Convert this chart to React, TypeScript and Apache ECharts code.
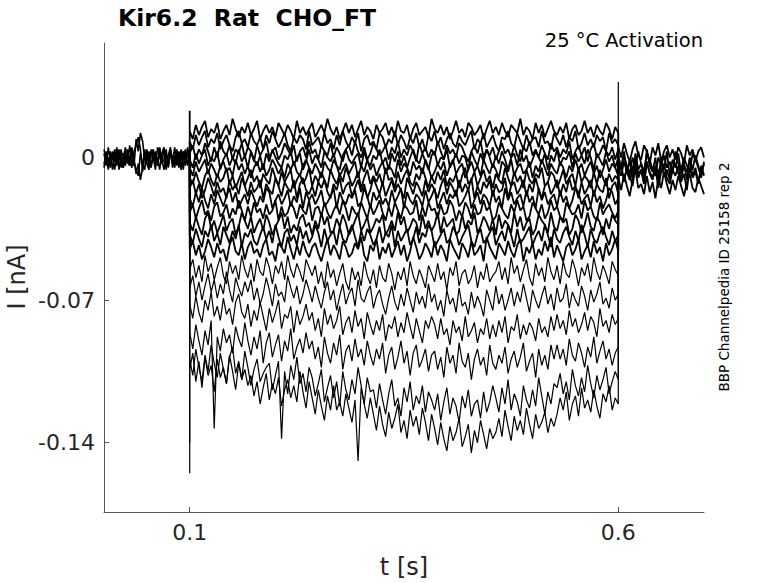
import React, { useEffect, useRef } from "react";
import * as echarts from "echarts";

// ---- units / time window ----
const PA_TO_NA = 0.001; // values below are in pA, plotted in nA
const T_MIN = 0;
const T_ON = 0.1;
const T_OFF = 0.6;
const T_MAX = 0.7;

// ---- axis ticks ----
const xTicks = [0.1, 0.6];
const xTickLabels = ["0.1", "0.6"];
const yTicks = [-0.14, -0.07, 0];
const yTickLabels = ["-0.14", "-0.07", "0"];

// ---- pre-pulse baseline (0 .. 0.1 s), pA ----
const pre1 = [2,-4,5,-2,0,-6,3,-1,4,-5,1,-3,6,-2,-4,9,3,12,8,-1,2,-5,1,4,-3,0,-6,2,5,-2,-4,3,0,-5,4,-1,2,-6,3,1,-3];
const pre2 = [-3,1,-6,3,-1,4,-4,2,-5,0,5,-2,-4,2,-1,-8,-3,-11,-5,4,-2,3,-4,0,-6,5,1,-3,-1,4,-5,2,-2,5,-4,1,-6,3,0,-3,2];
const pre3 = [4,-1,0,-5,3,-2,5,-6,1,2,-4,4,-1,-5,3,6,10,4,-7,1,-3,-6,4,-1,3,-4,2,-2,4,-6,1,5,-3,-1,2,-5,4,0,-4,5,-2];
const pre4 = [-5,3,-2,1,-6,2,-3,4,-1,-5,3,0,-4,5,-2,-6,-9,2,-3,-6,4,-2,-5,3,0,-4,5,-1,-6,2,-3,4,-5,1,-2,3,-6,0,4,-4,1];

// ---- step traces (0.1 .. 0.6 s), pA ----
const trace01 = [13,9,16,11,15,18,10,14,12,17,9,13,16,11,19,14,10,15,12,17,
11,14,18,9,13,16,12,15,10,17,14,11,16,13,9,18,12,15,11,14,
17,10,13,16,12,19,14,11,15,9,13,17,12,16,10,14,18,11,15,13,
9,16,12,14,17,11,15,10,18,13,12,16,9,14,17,11,13,15,10,19,
14,12,16,11,15,9,13,18,12,14,10,17,15,11,13,16,9,14,18,12,
15,11,17,13,10,16,14,12,19,11,15,13,9,17,12,16,10,14,18,13,
11,15,12,17,9,14,16,11,13,18,12,15,10,16,13,11,17,14,9,15,12];
const trace02 = [8,4,11,6,10,13,5,9,7,12,4,8,11,6,3,10,13,7,9,5,
12,8,6,10,4,11,7,13,9,5,8,12,6,3,10,7,11,9,4,13,
6,8,10,5,12,7,9,4,11,6,13,8,5,10,7,12,3,9,11,6,
8,4,12,10,5,9,7,13,6,11,8,4,10,7,12,5,9,3,11,8,
13,6,10,4,9,12,7,5,11,8,6,10,13,4,9,7,12,5,8,11,
6,3,10,9,13,7,5,12,8,4,11,6,9,10,5,13,7,8,4,12,
9,6,11,5,10,8,13,4,7,12,6,9,5,11,8,10,3,12,7,9,6];
const trace03 = [2,6,-1,4,1,7,3,-2,5,0,8,3,1,6,-1,4,2,7,0,5,
3,-2,6,1,4,8,0,3,5,-1,2,7,4,1,6,-2,3,5,0,8,
2,4,-1,6,3,1,7,0,5,2,-2,4,6,1,8,3,0,5,-1,2,
7,4,1,3,6,-1,5,2,8,0,4,1,6,3,-2,7,2,5,0,4,
1,8,3,-1,6,2,4,0,7,5,1,-2,3,6,2,8,0,4,1,5,
-1,3,7,2,4,0,6,1,-2,5,3,8,1,4,0,6,2,-1,7,3,
5,0,4,2,8,-1,3,6,1,5,-2,4,7,0,2,6,3,1,5,-1,4];
const trace04 = [-1,-5,2,-3,1,4,-4,0,-2,3,-6,-1,2,-4,0,-3,4,-2,1,-5,
3,-1,-4,1,-6,2,-2,4,0,-3,-5,1,-1,3,-4,0,2,-6,-2,4,
-3,1,-1,-5,3,0,-2,2,-4,-6,1,4,-1,-3,0,2,-5,3,-2,-4,
1,-1,4,-3,0,-6,2,-2,3,-4,1,-5,0,4,-1,-3,2,-2,-6,1,
3,-4,0,-1,4,-5,-2,2,-3,1,0,-6,3,-1,-4,2,-2,4,0,-5,
1,-3,3,-1,-6,0,2,-4,4,-2,1,-5,-1,3,0,-3,2,-6,1,-2,
4,-4,0,-1,3,-5,2,-2,1,-3,4,0,-6,2,-1,-4,3,-2,1,-5,0];
const trace05 = [-5,-9,-2,-7,-4,-1,-8,-3,-6,-10,-4,-2,-7,-5,-9,-1,-6,-3,-8,-4,
-10,-5,-2,-7,-3,-9,-6,-1,-4,-8,-5,-10,-3,-6,-2,-7,-9,-4,-1,-5,
-8,-3,-6,-10,-2,-5,-7,-1,-4,-9,-6,-3,-8,-5,-2,-10,-4,-7,-1,-6,
-3,-9,-5,-2,-8,-4,-6,-10,-1,-7,-3,-5,-9,-2,-6,-4,-8,-1,-5,-10,
-7,-3,-6,-2,-9,-4,-1,-8,-5,-3,-10,-6,-2,-7,-4,-9,-1,-5,-8,-3,
-6,-10,-2,-4,-7,-1,-9,-5,-3,-8,-6,-2,-10,-4,-7,-1,-5,-9,-3,-6,
-8,-2,-5,-10,-4,-7,-1,-6,-3,-9,-5,-2,-8,-4,-10,-6,-1,-7,-3,-5,-9];
const trace06 = [-10,-13,-7,-12,-15,-9,-6,-11,-14,-8,-12,-10,-5,-13,-9,-15,-11,-7,-14,-10,
-6,-12,-9,-15,-8,-11,-13,-5,-10,-14,-7,-12,-9,-6,-15,-11,-8,-13,-10,-5,
-14,-9,-12,-7,-11,-15,-6,-10,-13,-8,-12,-5,-9,-14,-11,-7,-15,-10,-6,-13,
-9,-12,-8,-14,-5,-11,-10,-15,-7,-13,-9,-6,-12,-14,-8,-11,-5,-10,-15,-9,
-13,-7,-11,-6,-14,-10,-12,-8,-15,-9,-5,-13,-11,-7,-14,-10,-6,-12,-9,-15,
-8,-11,-13,-5,-10,-14,-7,-12,-9,-15,-6,-11,-13,-8,-10,-5,-14,-12,-7,-9,
-15,-11,-6,-13,-10,-8,-14,-5,-12,-9,-11,-15,-7,-13,-6,-10,-14,-8,-12,-9,-11];
const trace07 = [-15,-11,-18,-13,-20,-16,-10,-14,-19,-12,-17,-15,-20,-11,-16,-13,-18,-10,-14,-19,
-12,-17,-15,-11,-20,-13,-16,-18,-10,-14,-19,-12,-15,-17,-11,-20,-13,-10,-16,-18,
-14,-19,-12,-15,-11,-17,-20,-13,-16,-10,-18,-14,-12,-19,-15,-11,-17,-13,-20,-16,
-10,-14,-18,-12,-19,-15,-11,-17,-13,-16,-20,-10,-14,-18,-12,-15,-19,-11,-17,-13,
-16,-20,-14,-10,-18,-12,-15,-19,-11,-17,-13,-16,-10,-20,-14,-18,-12,-15,-11,-19,
-13,-17,-16,-10,-20,-14,-12,-18,-15,-11,-19,-13,-17,-10,-16,-20,-14,-12,-18,-15,
-11,-19,-13,-17,-10,-16,-14,-20,-12,-18,-15,-11,-19,-13,-16,-17,-10,-20,-14,-12,-18];
const trace08 = [-20,-24,-17,-22,-15,-21,-25,-18,-23,-16,-20,-24,-19,-15,-22,-17,-25,-21,-18,-23,
-16,-20,-24,-19,-22,-15,-17,-25,-21,-18,-23,-20,-16,-24,-19,-22,-15,-25,-17,-21,
-18,-23,-20,-16,-24,-22,-19,-15,-25,-17,-21,-23,-18,-20,-16,-24,-22,-15,-19,-25,
-17,-21,-18,-23,-20,-24,-16,-22,-19,-15,-25,-17,-21,-23,-18,-20,-24,-16,-22,-19,
-15,-25,-21,-17,-23,-18,-20,-16,-24,-22,-19,-15,-25,-21,-17,-23,-18,-20,-24,-16,
-22,-19,-25,-15,-21,-17,-23,-20,-18,-24,-16,-22,-19,-25,-15,-21,-17,-23,-20,-18,
-24,-16,-22,-19,-25,-21,-15,-17,-23,-20,-18,-24,-16,-22,-19,-25,-21,-15,-17,-23,-20];
const trace09 = [-27,-23,-30,-25,-21,-28,-26,-31,-24,-22,-29,-27,-23,-30,-25,-28,-21,-26,-31,-24,
-29,-22,-27,-25,-30,-23,-28,-26,-21,-31,-24,-29,-27,-22,-25,-30,-23,-26,-28,-21,
-31,-25,-24,-29,-22,-27,-30,-26,-23,-28,-21,-25,-31,-24,-27,-29,-22,-26,-30,-23,
-28,-25,-21,-27,-31,-24,-29,-22,-26,-30,-23,-25,-28,-27,-21,-31,-24,-29,-22,-26,
-25,-30,-23,-28,-27,-21,-24,-31,-26,-29,-22,-25,-30,-23,-28,-27,-21,-26,-24,-31,
-29,-22,-25,-28,-30,-23,-27,-21,-26,-24,-31,-29,-22,-25,-28,-23,-30,-27,-21,-26,
-24,-29,-31,-22,-25,-28,-27,-23,-30,-21,-26,-24,-29,-31,-22,-28,-25,-23,-27,-30,-26];
const trace10 = [-32,-36,-29,-34,-38,-30,-27,-35,-31,-37,-33,-28,-36,-32,-30,-38,-34,-27,-31,-35,
-29,-37,-33,-30,-36,-28,-32,-38,-34,-31,-27,-35,-29,-37,-33,-36,-30,-28,-34,-32,
-38,-31,-35,-27,-33,-29,-37,-36,-30,-34,-28,-32,-38,-35,-31,-27,-36,-33,-29,-37,
-34,-30,-32,-28,-38,-35,-31,-36,-27,-33,-29,-37,-34,-30,-32,-38,-28,-35,-31,-36,
-33,-27,-37,-29,-34,-32,-30,-38,-36,-28,-35,-31,-33,-27,-37,-34,-29,-32,-36,-30,
-38,-28,-35,-31,-33,-37,-27,-34,-29,-36,-32,-30,-38,-35,-28,-31,-33,-37,-27,-34,
-36,-29,-32,-30,-38,-35,-28,-31,-37,-33,-27,-34,-36,-29,-32,-38,-30,-35,-28,-31,-33];
const trace11 = [-38,-42,-35,-40,-44,-36,-39,-33,-41,-37,-43,-34,-38,-42,-36,-40,-33,-44,-37,-39,
-35,-41,-43,-38,-34,-40,-36,-42,-33,-39,-44,-37,-35,-41,-38,-43,-34,-40,-36,-42,
-39,-33,-37,-44,-35,-41,-38,-36,-43,-34,-40,-42,-37,-33,-39,-44,-36,-41,-35,-38,
-43,-40,-34,-42,-37,-39,-33,-44,-36,-41,-38,-35,-43,-40,-34,-42,-37,-39,-33,-36,
-44,-41,-38,-35,-42,-40,-34,-37,-43,-39,-36,-33,-41,-44,-38,-35,-42,-40,-37,-34,
-43,-39,-36,-41,-33,-38,-44,-35,-42,-40,-37,-34,-43,-39,-36,-41,-33,-38,-44,-35,
-40,-42,-37,-34,-39,-43,-36,-41,-33,-38,-44,-35,-40,-42,-37,-34,-39,-43,-36,-41,-38];
const trace12 = [-45,-41,-48,-43,-50,-46,-40,-44,-49,-42,-47,-45,-51,-43,-39,-46,-48,-42,-50,-44,
-41,-47,-45,-49,-43,-40,-48,-46,-51,-42,-44,-47,-39,-45,-50,-43,-48,-41,-46,-49,
-44,-42,-47,-51,-45,-40,-48,-43,-46,-50,-41,-44,-49,-47,-42,-45,-39,-48,-51,-43,
-46,-40,-50,-44,-47,-42,-49,-45,-41,-48,-43,-51,-46,-39,-44,-50,-47,-42,-45,-49,
-41,-48,-43,-46,-51,-40,-44,-47,-50,-42,-45,-49,-41,-48,-46,-43,-51,-39,-44,-47,
-50,-42,-45,-48,-41,-46,-49,-43,-40,-51,-44,-47,-42,-50,-45,-48,-41,-46,-39,-49,
-43,-47,-51,-44,-42,-48,-45,-40,-50,-46,-43,-49,-41,-47,-44,-51,-42,-48,-45,-40,-46];
const trace13 = [-55,-50,-59,-53,-61,-48,-56,-52,-60,-54,-49,-58,-62,-51,-57,-53,-60,-48,-55,-59,
-52,-61,-50,-56,-58,-49,-54,-62,-53,-57,-51,-60,-48,-55,-59,-52,-56,-61,-50,-54,
-58,-53,-62,-56,-64,-51,-59,-55,-63,-57,-52,-61,-65,-54,-60,-56,-63,-51,-58,-62,
-55,-64,-53,-59,-61,-52,-57,-65,-56,-60,-54,-63,-51,-58,-62,-55,-59,-64,-53,-57,
-61,-52,-60,-56,-65,-54,-58,-51,-63,-57,-55,-62,-59,-53,-64,-56,-60,-52,-61,-58,
-56,-51,-60,-54,-62,-49,-57,-53,-61,-55,-50,-59,-63,-52,-58,-54,-61,-49,-56,-60,
-53,-62,-51,-57,-59,-50,-55,-63,-54,-58,-52,-61,-49,-56,-60,-53,-57,-62,-51,-55,-58];
const trace14 = [-64,-58,-68,-61,-70,-63,-57,-66,-60,-69,-62,-67,-56,-65,-71,-59,-64,-68,-61,-66,
-60,-70,-64,-72,-67,-59,-65,-73,-62,-68,-66,-71,-58,-64,-69,-63,-72,-67,-60,-65,
-71,-63,-69,-74,-66,-61,-70,-65,-75,-68,-62,-72,-67,-64,-73,-60,-69,-71,-66,-63,
-74,-68,-65,-72,-77,-69,-63,-71,-75,-67,-73,-64,-70,-76,-66,-72,-68,-74,-62,-71,
-67,-75,-70,-78,-65,-72,-69,-76,-64,-73,-71,-77,-66,-74,-68,-72,-78,-65,-70,-75,
-63,-72,-67,-75,-70,-64,-73,-66,-71,-62,-69,-76,-65,-70,-74,-68,-63,-72,-67,-75,
-64,-71,-69,-62,-74,-66,-70,-73,-63,-68,-75,-65,-71,-67,-61,-72,-69,-74,-64,-70,-67];
const trace15 = [-72,-79,-68,-76,-81,-70,-75,-66,-78,-73,-80,-69,-77,-74,-82,-71,-67,-76,-79,-72,
-83,-75,-80,-71,-78,-85,-74,-81,-76,-70,-84,-77,-79,-73,-86,-75,-82,-78,-72,-80,
-76,-85,-79,-88,-74,-82,-77,-84,-80,-73,-87,-81,-78,-86,-75,-83,-79,-89,-76,-82,
-87,-80,-85,-77,-90,-82,-84,-78,-88,-81,-86,-76,-83,-89,-79,-85,-91,-80,-84,-78,
-82,-89,-79,-87,-84,-92,-80,-86,-83,-90,-78,-88,-85,-81,-91,-84,-87,-79,-89,-82,
-88,-80,-86,-78,-91,-83,-85,-77,-89,-82,-87,-81,-84,-90,-79,-86,-83,-88,-78,-85,
-77,-84,-80,-87,-75,-83,-79,-86,-82,-76,-85,-78,-81,-88,-74,-83,-80,-86,-77,-82,-79];
const trace16 = [-86,-94,-82,-90,-97,-85,-92,-80,-133,-88,-95,-84,-91,-87,-96,-83,-89,-93,-81,-90,
-97,-88,-94,-85,-101,-91,-86,-98,-92,-87,-100,-90,-95,-84,-99,-93,-89,-96,-86,-94,
-90,-99,-93,-103,-88,-96,-101,-91,-97,-87,-104,-95,-92,-100,-89,-98,-94,-102,-90,-97,
-102,-94,-99,-91,-106,-97,-93,-104,-98,-90,-101,-95,-107,-96,-92,-103,-99,-94,-105,-97,
-95,-104,-98,-108,-93,-101,-97,-106,-91,-100,-103,-96,-109,-99,-94,-102,-98,-107,-92,-101,
-104,-97,-101,-93,-106,-99,-95,-103,-98,-91,-105,-100,-96,-108,-94,-102,-97,-104,-92,-99,
-92,-99,-94,-102,-89,-97,-100,-91,-96,-103,-93,-98,-88,-101,-95,-90,-99,-94,-102,-96,-93];
const trace17 = [-99,-107,-94,-103,-110,-97,-105,-92,-101,-108,-96,-104,-111,-98,-93,-106,-100,-109,-95,-103,
-112,-104,-99,-110,-106,-103,-101,-114,-107,-100,-138,-105,-116,-102,-109,-98,-111,-106,-115,-103,
-108,-117,-111,-104,-120,-113,-107,-118,-110,-122,-105,-114,-119,-109,-116,-103,-112,-121,-108,-115,
-114,-123,-111,-119,-126,-116,-109,-122,-118,-127,-113,-120,-110,-124,-117,-121,-112,-125,-115,-119,
-124,-116,-129,-120,-113,-126,-118,-122,-130,-117,-123,-114,-127,-121,-119,-128,-115,-125,-120,-112,
-118,-125,-113,-121,-109,-124,-116,-120,-127,-112,-119,-123,-114,-122,-108,-117,-126,-115,-121,-111,
-113,-106,-116,-110,-119,-104,-112,-117,-108,-115,-102,-111,-118,-107,-114,-109,-103,-116,-110,-105,-109];
const trace18 = [-104,-96,-110,-100,-113,-98,-107,-102,-115,-99,-108,-103,-111,-97,-105,-114,-101,-109,-104,-112,
-107,-117,-110,-121,-113,-106,-119,-111,-116,-108,-122,-114,-109,-118,-112,-120,-105,-115,-123,-110,
-118,-126,-114,-122,-129,-117,-124,-112,-124,-120,-127,-116,-123,-130,-119,-149,-113,-121,-128,-118,
-126,-134,-122,-131,-137,-125,-133,-128,-121,-135,-129,-138,-124,-132,-127,-136,-123,-130,-139,-126,
-133,-141,-130,-138,-144,-132,-139,-135,-128,-142,-137,-131,-145,-134,-140,-129,-136,-143,-133,-138,
-135,-128,-137,-124,-132,-139,-127,-134,-129,-136,-123,-131,-138,-126,-133,-130,-125,-135,-128,-132,
-126,-118,-124,-115,-129,-121,-117,-127,-113,-123,-119,-125,-114,-122,-128,-116,-120,-112,-124,-118,-121];

const stepTraces = [trace01, trace02, trace03, trace04, trace05, trace06, trace07, trace08, trace09,
  trace10, trace11, trace12, trace13, trace14, trace15, trace16, trace17, trace18];
// capacitive transient peaks at step onset / offset (pA), null = none
const onsetPeak = [23, null, null, null, null, null, null, null, null, null, null, null, null, null, null, null, -140, -155];
const offsetPeak = [null, null, null, null, null, null, null, null, null, null, null, null, null, null, null, null, null, 37];

// ---- post-pulse tails (0.6 .. 0.7 s), pA ----
const post1 = [5,0,7,2,-2,4,8,1,-1,6,3,-3,5,1,7,-2,3,6,0,4,-1,5,2,-3,6,1,4,-2,3,5,0];
const post2 = [-4,-9,-2,-7,-11,-5,-1,-8,-6,-12,-3,-7,-10,-4,-8,-2,-9,-6,-11,-5,-3,-8,-10,-4,-7,-1,-9,-5,-12,-6,-8];
const post3 = [-10,-16,-8,-14,-19,-11,-6,-15,-13,-18,-9,-17,-12,-20,-10,-15,-7,-13,-18,-11,-16,-9,-14,-19,-12,-8,-15,-17,-10,-14,-18];
const post4 = [-2,-6,1,-4,-8,0,-5,3,-3,-7,2,-1,-6,-9,0,-4,1,-5,-2,-8,3,-3,-6,0,-4,-7,2,-1,-5,-9,-3];
const post5 = [-7,-3,-12,-5,-9,-14,-4,-10,-6,-13,-2,-8,-11,-5,-15,-7,-3,-10,-13,-6,-9,-4,-12,-8,-16,-5,-10,-7,-13,-4,-9];
const post6 = [1,-5,3,-8,-1,-11,2,-6,-3,-10,4,-4,-7,0,-12,-2,-6,3,-9,-1,-5,2,-8,-3,-11,0,-6,1,-4,-10,-2];

const TEXT_COLOR = "#262626";
const AXIS_COLOR = "#555555";
const FONT = '"DejaVu Sans", "Noto Sans", sans-serif';

function segment(values: number[], t0: number, t1: number): [number, number][] {
  const n = values.length;
  return values.map((v, i) => [t0 + ((t1 - t0) * i) / (n - 1), v * PA_TO_NA]);
}

function stepData(values: number[], onset: number | null, offset: number | null): [number, number][] {
  const pts: [number, number][] = [[T_ON, 0]];
  if (onset != null) pts.push([T_ON, onset * PA_TO_NA]);
  segment(values, T_ON, T_OFF).forEach((p) => pts.push(p));
  if (offset != null) pts.push([T_OFF, offset * PA_TO_NA]);
  pts.push([T_OFF, 0]);
  return pts;
}

function lineSeries(data: [number, number][], width: number) {
  return {
    type: "line",
    data,
    showSymbol: false,
    symbol: "none",
    silent: true,
    animation: false,
    emphasis: { disabled: true },
    lineStyle: { color: "#000000", width },
  };
}

export default function App() {
  const ref = useRef<HTMLDivElement>(null);

  useEffect(() => {
    if (!ref.current) return;
    const chart = echarts.init(ref.current, undefined, { renderer: "svg" });

    const series: any[] = [];
    [pre1, pre2, pre3, pre4].forEach((a) => series.push(lineSeries(segment(a, T_MIN, T_ON), 1.6)));
    stepTraces.forEach((a, k) =>
      series.push(lineSeries(stepData(a, onsetPeak[k], offsetPeak[k]), k < 12 ? 1.8 : 1.2))
    );
    [post1, post2, post3, post4, post5, post6].forEach((a) =>
      series.push(lineSeries(segment(a, T_OFF, T_MAX), 1.8))
    );

    chart.setOption({
      animation: false,
      backgroundColor: "#ffffff",
      grid: { left: 104, top: 43, right: 74, bottom: 71, containLabel: false },
      xAxis: {
        type: "value",
        min: T_MIN,
        max: T_MAX,
        splitLine: { show: false },
        axisLine: { show: true, onZero: false, lineStyle: { color: AXIS_COLOR, width: 1 } },
        axisTick: { show: true, inside: true, length: 5, customValues: xTicks, lineStyle: { color: AXIS_COLOR } },
        axisLabel: {
          show: true,
          customValues: xTicks,
          margin: 9,
          color: TEXT_COLOR,
          fontFamily: FONT,
          fontSize: 22,
          formatter: (v: number) => xTickLabels[xTicks.indexOf(v)] ?? String(v),
        },
      },
      yAxis: {
        type: "value",
        min: -0.174,
        max: 0.0562,
        splitLine: { show: false },
        axisLine: { show: true, onZero: false, lineStyle: { color: AXIS_COLOR, width: 1 } },
        axisTick: { show: true, inside: true, length: 5, customValues: yTicks, lineStyle: { color: AXIS_COLOR } },
        axisLabel: {
          show: true,
          customValues: yTicks,
          margin: 9,
          color: TEXT_COLOR,
          fontFamily: FONT,
          fontSize: 22,
          formatter: (v: number) => yTickLabels[yTicks.indexOf(v)] ?? String(v),
        },
      },
      graphic: [
        {
          type: "text",
          x: 118,
          y: 17.5,
          silent: true,
          style: {
            text: "Kir6.2  Rat  CHO_FT",
            fill: "#000000",
            font: `bold 23.5px ${FONT}`,
            align: "left",
            verticalAlign: "middle",
            textAlign: "left",
            textVerticalAlign: "middle",
          },
        },
        {
          type: "text",
          x: 703,
          y: 40,
          silent: true,
          style: {
            text: "25 °C Activation",
            fill: "#000000",
            font: `19.5px ${FONT}`,
            align: "right",
            verticalAlign: "middle",
            textAlign: "right",
            textVerticalAlign: "middle",
          },
        },
        {
          type: "text",
          x: 17,
          y: 277,
          rotation: Math.PI / 2,
          silent: true,
          style: {
            text: "I [nA]",
            fill: TEXT_COLOR,
            font: `24px ${FONT}`,
            align: "center",
            verticalAlign: "middle",
            textAlign: "center",
            textVerticalAlign: "middle",
          },
        },
        {
          type: "text",
          x: 404,
          y: 567,
          silent: true,
          style: {
            text: "t [s]",
            fill: TEXT_COLOR,
            font: `24px ${FONT}`,
            align: "center",
            verticalAlign: "middle",
            textAlign: "center",
            textVerticalAlign: "middle",
          },
        },
        {
          type: "text",
          x: 724,
          y: 277,
          rotation: Math.PI / 2,
          silent: true,
          style: {
            text: "BBP Channelpedia ID 25158 rep 2",
            fill: "#000000",
            font: `13.5px ${FONT}`,
            align: "center",
            verticalAlign: "middle",
            textAlign: "center",
            textVerticalAlign: "middle",
          },
        },
      ],
      series,
    });

    return () => chart.dispose();
  }, []);

  return (
    <div
      ref={ref}
      style={{ position: "absolute", left: 0, top: 0, width: 778, height: 583, background: "#fff" }}
    />
  );
}
